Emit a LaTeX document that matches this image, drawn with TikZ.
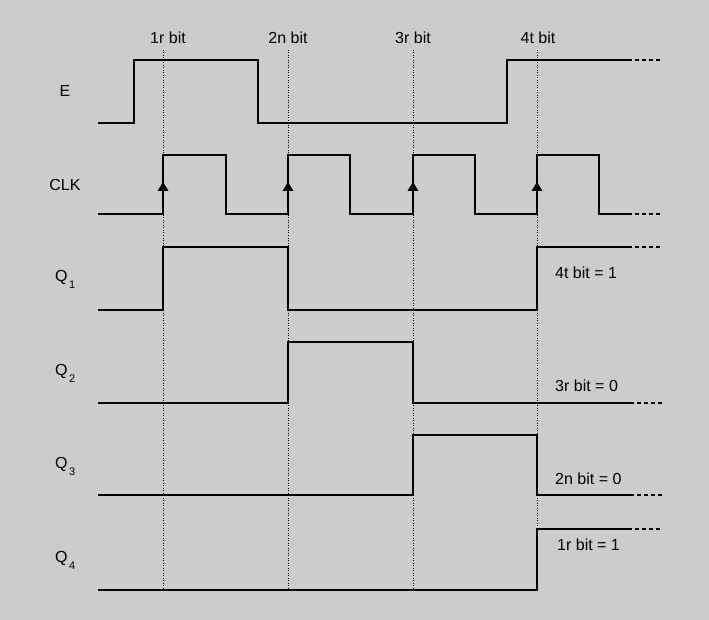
\documentclass[tikz,border=0pt]{standalone}
\usepackage{fontspec}
\setmainfont{Liberation Sans}
\definecolor{bg}{RGB}{204,204,204}
\newcommand{\qsub}[1]{Q\hspace{1.5pt}{\fontsize{11}{11}\selectfont\raisebox{-7.5pt}{#1}}}
\begin{document}
\begin{tikzpicture}[x=1pt,y=-1pt,
  sig/.style={line width=2pt, line join=miter},
  tail/.style={line width=2pt, dash pattern=on 4pt off 3pt},
  guide/.style={line width=0.8pt, dash pattern=on 1pt off 1.5pt},
  lbl/.style={font=\fontsize{16}{19}\selectfont, anchor=base, inner sep=0pt},
  lbll/.style={lbl, anchor=base west}]
\fill[bg] (0,0) rectangle (709,620);
\useasboundingbox (0,0) rectangle (709,620);

% guide lines
\foreach \x in {163,288,413,537} \draw[guide] (\x,50) -- (\x,592);

% top labels
\node[lbl] (b1) at (168,44) {1r bit};
\node[lbl] (b2) at (288,44) {2n bit};
\node[lbl] (b3) at (413,44) {3r bit};
\node[lbl] (b4) at (538,44) {4t bit};

% left labels
\node[lbl] (lE) at (65,97) {E};
\node[lbl] (lC) at (65,191) {CLK};
\node[lbll] (lQ1) at (55,281) {\qsub{1}};
\node[lbll] (lQ2) at (55,375) {\qsub{2}};
\node[lbll] (lQ3) at (55,468) {\qsub{3}};
\node[lbll] (lQ4) at (55,562) {\qsub{4}};

% right labels
\node[lbll] (r4) at (555,278) {4t bit = 1};
\node[lbll] (r3) at (555,391) {3r bit = 0};
\node[lbll] (r2) at (555,484) {2n bit = 0};
\node[lbll] (r1) at (557,550) {1r bit = 1};

% E
\draw[sig] (98,123) -| (134,60) -| (258,123) -| (507,60) -- (628,60);
\draw[tail] (628,60) -- (662,60);

% CLK
\draw[sig] (98,214) -- (163,214) |- (226,155) |- (288,214) |- (350,155) |- (413,214) |- (475,155) |- (537,214) |- (599,155) |- (628,214);
\draw[tail] (628,214) -- (662,214);
\foreach \x in {163,288,413,537}
  \fill (\x-5.5,191) -- (\x,182) -- (\x+5.5,191) -- cycle;

% Q1
\draw[sig] (98,310) -| (163,247) -| (288,310) -| (537,247) -- (628,247);
\draw[tail] (628,247) -- (662,247);
% Q2
\draw[sig] (98,403) -| (288,342) -| (413,403) -- (630,403);
\draw[tail] (630,403) -- (662,403);
% Q3
\draw[sig] (98,495) -| (413,435) -| (537,495) -- (630,495);
\draw[tail] (630,495) -- (662,495);
% Q4
\draw[sig] (98,590) -| (537,529) -- (628,529);
\draw[tail] (628,529) -- (662,529);
\end{tikzpicture}
\end{document}
